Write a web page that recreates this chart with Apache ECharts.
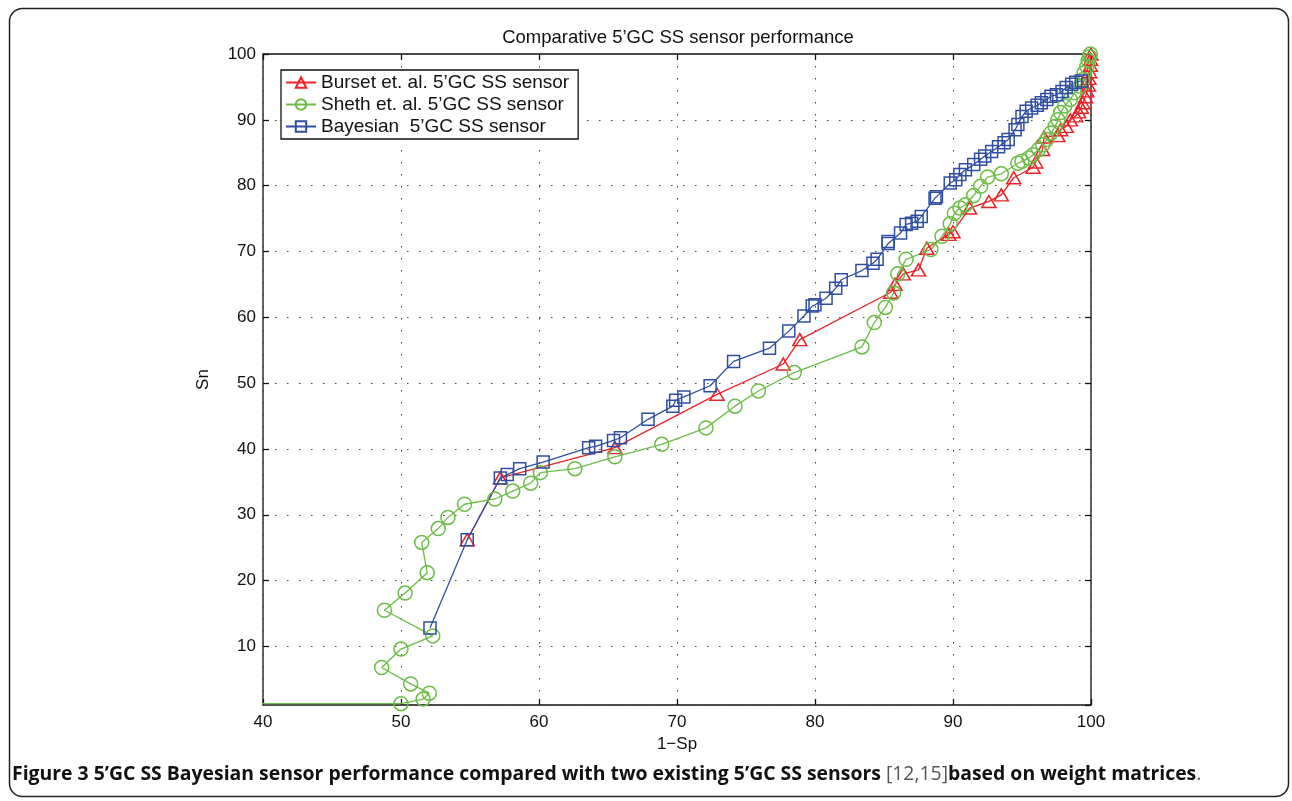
<!DOCTYPE html>
<html>
<head>
<meta charset="utf-8">
<script src="https://cdn.jsdelivr.net/npm/echarts@6/dist/echarts.min.js"></script>
<style>
html,body{margin:0;padding:0;background:#fff;}
#chart{width:1292px;height:801px;}
</style>
</head>
<body>
<div id="chart"></div>
<script>
// ---- data (1-Sp, Sn) ----
const xTicks = [40, 50, 60, 70, 80, 90, 100];
const yTicks = [10, 20, 30, 40, 50, 60, 70, 80, 90, 100];

const bursetX = [54.8, 57.2, 65.5, 72.9, 77.7, 78.9, 85.5, 85.8, 86.4, 87.5, 88.1, 89.7, 90.0, 91.2, 92.6, 93.5, 94.4, 95.8, 96.0, 96.5, 96.6, 97.6, 97.8, 98.2, 98.5, 98.9, 99.1, 99.3, 99.4, 99.6, 99.7, 99.8, 99.85, 99.9, 99.95, 99.97, 100];
const bursetY = [26.2, 35.6, 40.2, 48.3, 52.9, 56.6, 63.8, 65.0, 66.6, 67.2, 70.5, 72.6, 73.0, 76.6, 77.6, 78.6, 81.2, 82.8, 83.6, 85.5, 87.4, 87.6, 88.5, 89.0, 90.0, 90.6, 91.2, 91.9, 92.6, 93.5, 94.4, 95.3, 96.3, 97.3, 98.3, 99.2, 100];

const shethX = [0, 50.0, 51.6, 52.05, 50.7, 48.6, 50.0, 52.3, 48.8, 50.3, 51.9, 51.5, 52.7, 53.4, 54.6, 56.8, 58.1, 59.4, 60.1, 62.6, 65.5, 68.9, 72.1, 74.2, 75.9, 78.5, 83.4, 84.3, 85.1, 85.7, 86.0, 86.6, 88.4, 89.2, 89.8, 90.1, 90.5, 90.9, 91.5, 92.0, 92.5, 93.5, 94.7, 95.0, 95.5, 95.8, 96.2, 96.5, 96.8, 97.1, 97.4, 97.6, 97.8, 98.1, 98.5, 98.8, 99.2, 99.4, 99.5, 99.7, 99.8, 99.9, 99.95];
const shethY = [1.3, 1.3, 2.0, 2.9, 4.3, 6.8, 9.6, 11.6, 15.5, 18.1, 21.2, 25.8, 27.9, 29.6, 31.6, 32.4, 33.6, 34.8, 36.4, 37.0, 38.8, 40.7, 43.2, 46.5, 48.8, 51.6, 55.5, 59.2, 61.5, 63.7, 66.6, 68.8, 70.3, 72.3, 74.2, 75.8, 76.6, 77.1, 78.5, 79.9, 81.3, 81.8, 83.4, 83.7, 84.2, 84.7, 85.5, 86.2, 87.0, 88.0, 89.0, 90.0, 91.1, 92.1, 93.1, 94.1, 95.1, 96.1, 97.1, 98.1, 99.0, 99.6, 100];

const bayesX = [52.1, 54.8, 57.2, 57.7, 58.6, 60.3, 63.6, 64.1, 65.4, 65.9, 67.9, 69.7, 69.9, 70.5, 72.4, 74.1, 76.7, 78.1, 79.2, 79.8, 80.0, 80.8, 81.5, 81.9, 83.4, 84.2, 84.5, 85.3, 85.3, 86.2, 86.6, 87.0, 87.4, 87.7, 88.7, 88.8, 89.8, 90.2, 90.5, 90.9, 91.5, 92.0, 92.3, 92.8, 93.3, 93.7, 94.0, 94.5, 94.7, 95.0, 95.3, 95.7, 96.1, 96.4, 96.8, 97.1, 97.5, 97.9, 98.2, 98.6, 98.9, 99.3];
const bayesY = [12.8, 26.2, 35.6, 36.1, 37.0, 38.0, 40.2, 40.4, 41.3, 41.7, 44.5, 46.5, 47.4, 47.9, 49.6, 53.3, 55.3, 57.9, 60.2, 61.7, 61.9, 62.9, 64.4, 65.7, 67.1, 68.2, 68.8, 71.2, 71.5, 72.8, 74.1, 74.3, 74.6, 75.3, 78.1, 78.3, 80.4, 80.9, 81.7, 82.4, 83.2, 84.0, 84.5, 85.2, 85.9, 86.5, 87.0, 88.5, 89.3, 90.5, 91.3, 91.8, 92.2, 92.6, 93.1, 93.6, 93.8, 94.3, 94.9, 95.4, 95.7, 95.9];

const seriesNames = ['Burset et. al. 5\u2019GC SS sensor', 'Sheth et. al. 5\u2019GC SS sensor', 'Bayesian  5\u2019GC SS sensor'];
const titleText = 'Comparative 5\u2019GC SS sensor performance';
const xName = '1\u2212Sp';
const yName = 'Sn';

function pairs(xs, ys) { return xs.map((x, i) => [x, ys[i]]); }

const FONT = '"Liberation Sans", Arial, Helvetica, sans-serif';
const RED = '#ec2227', GREEN = '#6cbd45', BLUE = '#2e4fa1';

const chart = echarts.init(document.getElementById('chart'), null, { renderer: 'canvas' });

const dotted = { show: true, lineStyle: { color: '#444', width: 1, type: [1.5, 10.5] } };

function mkSeries(name, data, color, symbol, size) {
  return {
    name: name, type: 'line', data: data,
    symbol: symbol, symbolSize: size, showAllSymbol: true,
    clip: true, animation: false,
    lineStyle: { color: color, width: 1.3 },
    itemStyle: { color: 'rgba(255,255,255,0)', borderColor: color, borderWidth: 1.5 },
    emphasis: { disabled: true }
  };
}

const tickStyle = { show: true, inside: true, length: 6, lineStyle: { color: '#111', width: 1.3 } };

const option = {
  animation: false,
  backgroundColor: '#fff',
  title: {
    text: titleText, left: 673, top: 23, textAlign: 'center',
    textStyle: { fontFamily: FONT, fontSize: 18.5, fontWeight: 'normal', color: '#111' }
  },
  legend: {
    left: 281, top: 70, orient: 'vertical',
    backgroundColor: '#fff', borderColor: '#111', borderWidth: 1.3,
    padding: [3, 9, 3, 4], itemGap: 3, itemWidth: 30, itemHeight: 13,
    textStyle: { fontFamily: FONT, fontSize: 19, color: '#111' },
    data: seriesNames
  },
  grid: { left: 263, right: 201, top: 54, bottom: 96, show: true, borderColor: '#111', borderWidth: 1.3, backgroundColor: 'transparent' },
  xAxis: [{
    type: 'value', min: 40, max: 100, interval: 10,
    name: xName, nameLocation: 'middle', nameGap: 29,
    nameTextStyle: { fontFamily: FONT, fontSize: 17, color: '#111' },
    axisLine: { show: false },
    axisTick: tickStyle,
    axisLabel: { fontFamily: FONT, fontSize: 17, color: '#111', margin: 9 },
    splitLine: dotted
  }, {
    type: 'value', min: 40, max: 100, interval: 10, position: 'top',
    axisLine: { show: false }, axisLabel: { show: false },
    axisTick: tickStyle,
    splitLine: { show: false }
  }],
  yAxis: [{
    type: 'value', min: 1.1, max: 100, splitNumber: 10,
    name: yName, nameLocation: 'middle', nameGap: 51,
    nameTextStyle: { fontFamily: FONT, fontSize: 17, color: '#111' },
    axisLine: { show: false },
    axisTick: tickStyle,
    axisLabel: { fontFamily: FONT, fontSize: 17, color: '#111', margin: 7, showMinLabel: false,
      formatter: v => (yTicks.indexOf(Math.round(v * 1000) / 1000) >= 0 ? String(v) : '') },
    splitLine: dotted
  }, {
    type: 'value', min: 1.1, max: 100, splitNumber: 10, position: 'right',
    axisLine: { show: false }, axisLabel: { show: false },
    axisTick: tickStyle,
    splitLine: { show: false }
  }],
  series: [
    mkSeries(seriesNames[0], pairs(bursetX, bursetY), RED, 'triangle', [14, 12]),
    mkSeries(seriesNames[1], pairs(shethX, shethY), GREEN, 'circle', 14),
    mkSeries(seriesNames[2], pairs(bayesX, bayesY), BLUE, 'rect', 12)
  ],
  graphic: [
    { type: 'rect', silent: true, z: -1,
      shape: { x: 9.5, y: 8.5, width: 1279, height: 788, r: 13 },
      style: { fill: 'none', stroke: '#222', lineWidth: 1.5 } },
    { type: 'text', left: 12, top: 765, silent: true,
      style: {
        text: '{b|Figure 3 5\u2019GC SS Bayesian sensor performance compared with two existing 5\u2019GC SS sensors }{n|[12,15]}{b|based on weight matrices}{n|.}',
        rich: {
          b: { fontFamily: '"Open Sans", "Noto Sans", sans-serif', fontWeight: 'bold', fontSize: 19.4, fill: '#111' },
          n: { fontFamily: '"Open Sans", "Noto Sans", sans-serif', fontWeight: 'normal', fontSize: 19.4, fill: '#555' }
        }
      } }
  ]
};
chart.setOption(option);
</script>
</body>
</html>
